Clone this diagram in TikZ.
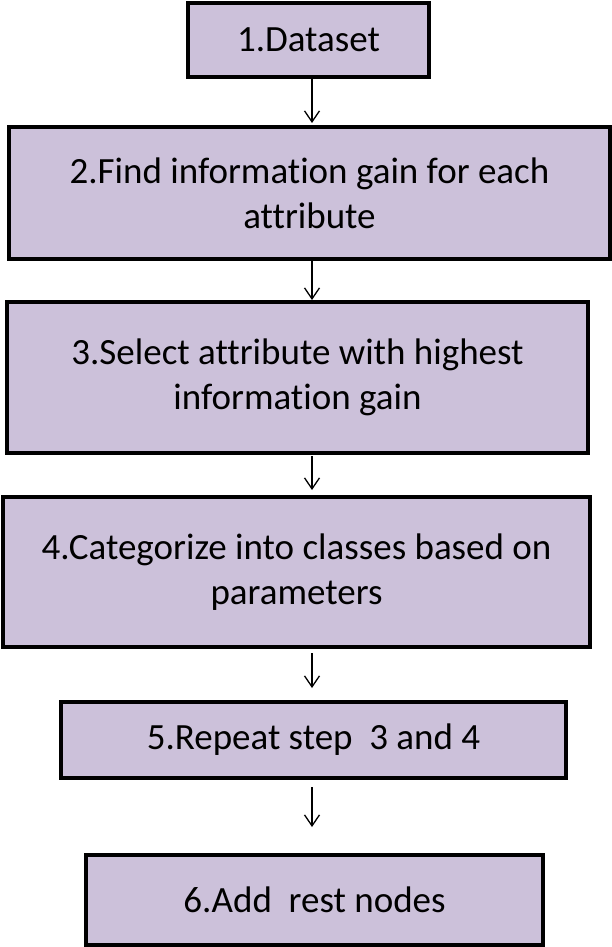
\documentclass[tikz,border=0pt]{standalone}
\usepackage{fontspec}
\setmainfont{Carlito}[Ligatures={NoCommon}]
\usetikzlibrary{arrows.meta}
\definecolor{boxfill}{HTML}{CCC1DA}
\begin{document}
\begin{tikzpicture}[x=1pt,y=-1pt,
  stepbox/.style={draw=black, line width=4pt, fill=boxfill, align=center,
    inner sep=0pt, font=\fontsize{37}{45}\selectfont},
  arr/.style={line width=1.3pt, -{Straight Barb[length=11pt,width=15pt,line width=1.3pt]}}]
\useasboundingbox (0,0) rectangle (612,947);
\node[stepbox, minimum width=241pt, minimum height=74pt] (b1) at (308.5,40) {1.Dataset};
\node[stepbox, minimum width=601pt, minimum height=132pt] (b2) at (309.5,193) {2.Find information gain for each\\attribute};
\node[stepbox, minimum width=581pt, minimum height=151pt] (b3) at (297.5,377.5) {3.Select attribute with highest\\information gain};
\node[stepbox, minimum width=587pt, minimum height=150pt] (b4) at (296.5,572) {4.Categorize into classes based on\\parameters};
\node[stepbox, minimum width=505pt, minimum height=76pt] (b5) at (313.5,740) {5.Repeat step\ \ 3 and 4};
\node[stepbox, minimum width=457pt, minimum height=90pt] (b6) at (314.5,900) {6.Add\ \ rest nodes};
\coordinate (ax) at (312,0);
\draw[arr, shorten >=2pt] (b1.south -| ax) -- (b2.north -| ax);
\draw[arr] (b2.south -| ax) -- (b3.north -| ax);
\draw[arr, shorten <=1pt, shorten >=5pt] (b3.south -| ax) -- (b4.north -| ax);
\draw[arr, shorten <=4pt, shorten >=12pt] (b4.south -| ax) -- (b5.north -| ax);
\draw[arr, shorten <=7pt, shorten >=26pt] (b5.south -| ax) -- (b6.north -| ax);
\end{tikzpicture}
\end{document}
